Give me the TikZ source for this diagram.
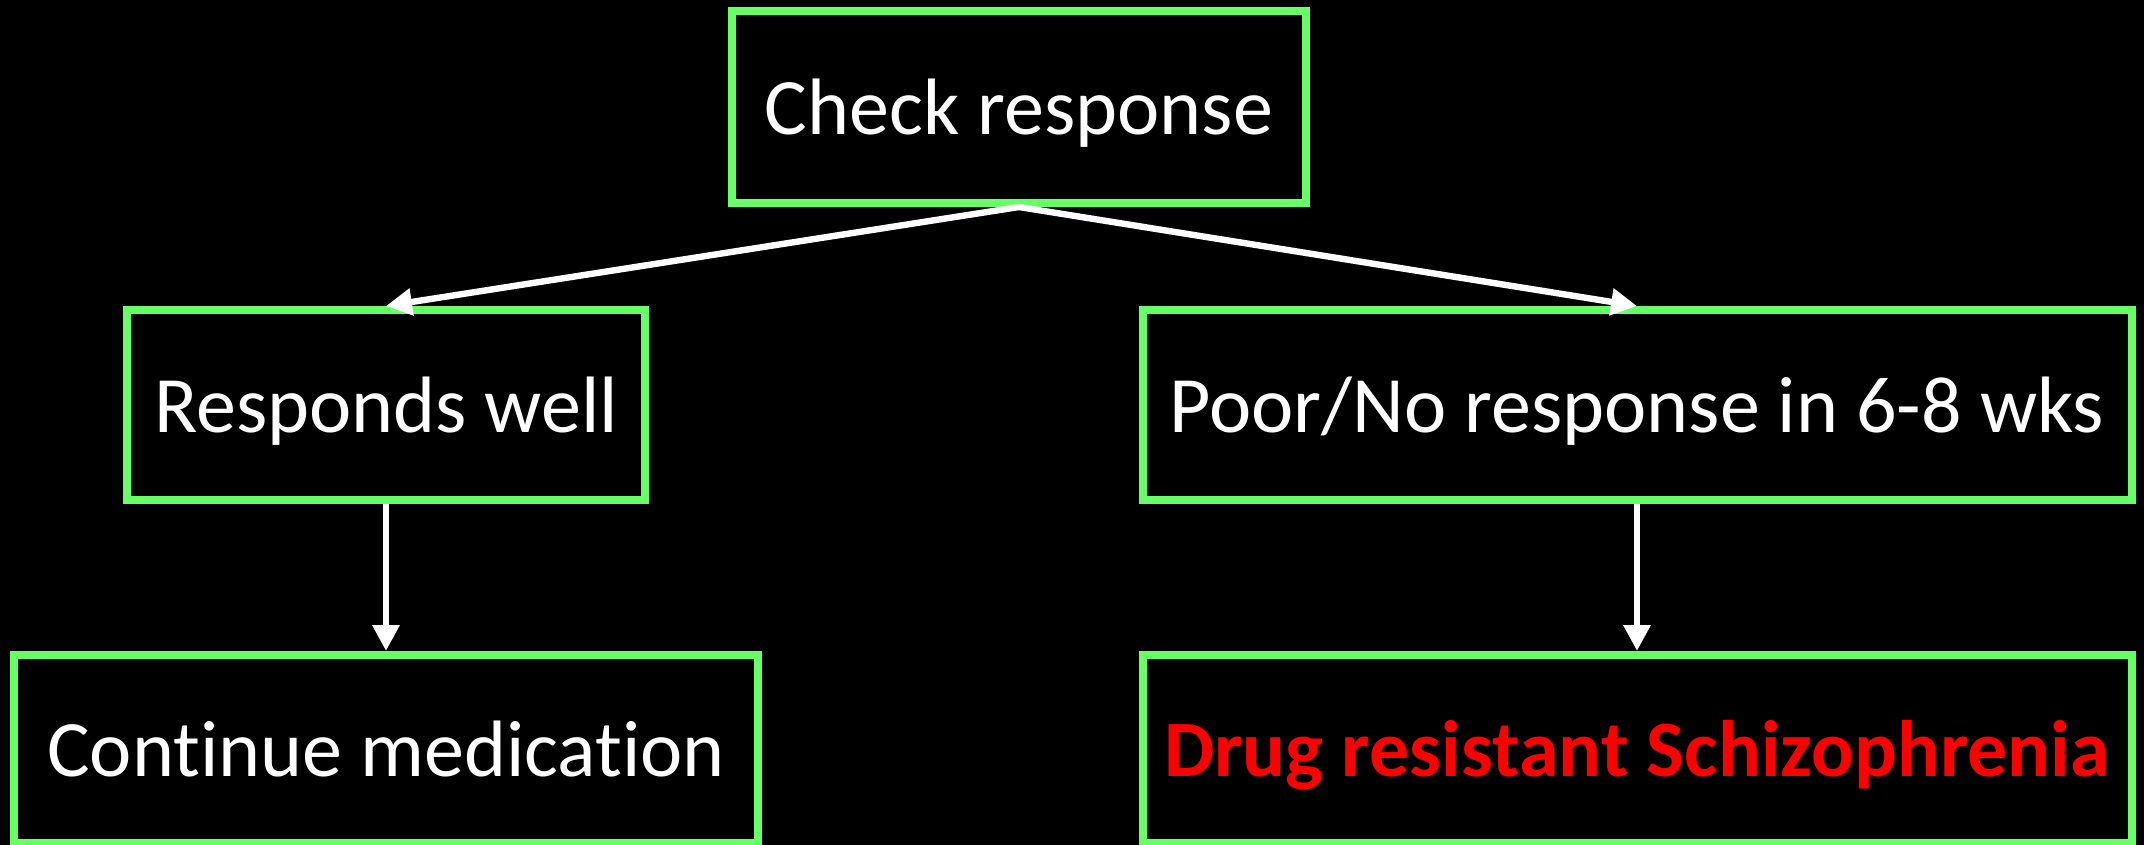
\documentclass[tikz,border=0pt]{standalone}
\usepackage{fontspec}
\setmainfont[Ligatures=NoCommon,RawFeature={-liga;-dlig}]{Carlito}
\usetikzlibrary{arrows.meta}
\definecolor{boxgreen}{HTML}{66FF66}
\definecolor{alertred}{HTML}{FF0000}
\begin{document}
\begin{tikzpicture}[x=0.5pt,y=-0.5pt,
  flowbox/.style={draw=boxgreen, line width=4pt, rectangle, text=white, font=\fontsize{40}{46}\selectfont, inner sep=0pt, text height=27.5pt, text depth=0pt},
  flowarrow/.style={draw=white, line width=3.2pt, -{Triangle[width=13pt,length=13pt]}}]
\fill[black] (0,0) rectangle (2144,845);
\useasboundingbox (0,0) rectangle (2144,845);
\node[flowbox, minimum width=287pt, minimum height=96pt] (check) at (1019,107) {Check response};
\node[flowbox, minimum width=259pt, minimum height=95pt] (resp) at (386,405) {Responds well};
\node[flowbox, minimum width=494.5pt, minimum height=95pt] (poor) at (1637,405) {Poor/No response in 6-8 wks};
\node[flowbox, minimum width=372pt, minimum height=94pt] (cont) at (386,749) {Continue medication};
\node[flowbox, minimum width=494.5pt, minimum height=94pt, text=alertred, font=\fontsize{40}{46}\selectfont\bfseries] (drug) at (1637,749) {Drug resistant Schizophrenia};
\draw[flowarrow] (check.south) -- (resp.north);
\draw[flowarrow] (check.south) -- (poor.north);
\draw[flowarrow] (resp.south) -- (cont.north);
\draw[flowarrow] (poor.south) -- (drug.north);
\end{tikzpicture}
\end{document}
